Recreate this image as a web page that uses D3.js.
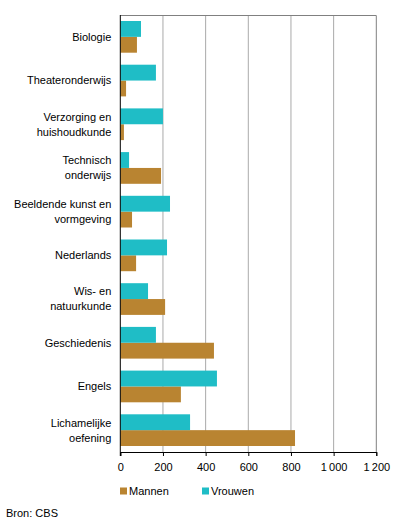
<!DOCTYPE html>
<html lang="nl">
<head>
    <meta charset="UTF-8">
    <script src="https://cdn.jsdelivr.net/npm/d3@7/dist/d3.min.js"></script>
    <title>Leraren</title>
    <style>
        body { margin: 0; background: #fff; }
        svg { display: block; font-family: "Liberation Sans", Arial, sans-serif; font-size: 11px; }
    </style>
</head>
<body>
<svg id="chart"></svg>
<script>
    const categories = [
        ["Biologie"],
        ["Theateronderwijs"],
        ["Verzorging en", "huishoudkunde"],
        ["Technisch", "onderwijs"],
        ["Beeldende kunst en", "vormgeving"],
        ["Nederlands"],
        ["Wis- en", "natuurkunde"],
        ["Geschiedenis"],
        ["Engels"],
        ["Lichamelijke", "oefening"]
    ];
    const vrouwen = [97, 167, 200, 41, 233, 219, 130, 167, 453, 327];
    const mannen = [78, 27, 17, 191, 55, 74, 210, 439, 284, 819];
    const xTicks = [0, 200, 400, 600, 800, 1000, 1200];
    const series = [
        {key: "Mannen", values: mannen, color: "#b98431"},
        {key: "Vrouwen", values: vrouwen, color: "#1fbdc6"}
    ];

    const width = 396, height = 520;
    const margin = {top: 15, right: 19.7, bottom: 68, left: 120.3};

    const svg = d3.select("#chart").attr("width", width).attr("height", height);

    const x = d3.scaleLinear().domain([0, 1200]).range([margin.left, width - margin.right]);
    const y = d3.scaleBand().domain(d3.range(categories.length))
        .range([margin.top, height - margin.bottom])
        .paddingInner(12 / 43.7).paddingOuter(6 / 43.7);
    // order: vrouwen on top, mannen below
    const sub = d3.scaleBand().domain(["Vrouwen", "Mannen"]).range([0, y.bandwidth()]);

    // grid
    svg.append("g").selectAll("line")
        .data(xTicks.slice(1, -1))
        .join("line")
        .attr("x1", d => x(d)).attr("x2", d => x(d))
        .attr("y1", margin.top).attr("y2", height - margin.bottom)
        .attr("stroke", "#aaaaaa");

    // top / right border
    svg.append("path")
        .attr("d", `M${x(0)},${margin.top + 0.5}H${x(1200)}V${height - margin.bottom}`)
        .attr("fill", "none")
        .attr("stroke", "#808080");

    // bars
    series.forEach(s => {
        svg.append("g").selectAll("rect")
            .data(s.values)
            .join("rect")
            .attr("x", x(0))
            .attr("y", (d, i) => y(i) + sub(s.key))
            .attr("width", d => x(d) - x(0))
            .attr("height", sub.bandwidth())
            .attr("fill", s.color);
    });

    // bottom axis
    const xAxis = svg.append("g")
        .attr("transform", `translate(0,${height - margin.bottom})`)
        .call(d3.axisBottom(x).tickValues(xTicks).tickSize(4).tickPadding(7)
            .tickFormat(d => d3.format(",")(d).replace(",", "\u2009")));
    xAxis.select(".domain").attr("stroke", "#000");
    xAxis.selectAll(".tick line").attr("stroke", "#000");
    xAxis.selectAll("text").attr("font-size", 11).attr("font-family", "Liberation Sans, Arial, sans-serif").attr("fill", "#000");

    // left axis line
    svg.append("line")
        .attr("x1", x(0)).attr("x2", x(0))
        .attr("y1", margin.top).attr("y2", height - margin.bottom + 4)
        .attr("stroke", "#000");

    // category labels
    const labels = svg.append("g").attr("text-anchor", "end").attr("fill", "#000");
    categories.forEach((lines, i) => {
        const cy = y(i) + y.bandwidth() / 2;
        const t = labels.append("text").attr("x", x(0) - 9);
        lines.forEach((ln, j) => {
            t.append("tspan")
                .attr("x", x(0) - 9)
                .attr("y", cy + (j - (lines.length - 1) / 2) * 15)
                .attr("dy", "0.35em")
                .text(ln);
        });
    });

    // legend
    const legendX = [120, 202];
    const legend = svg.append("g");
    series.forEach((s, i) => {
        const g = legend.append("g").attr("transform", `translate(${legendX[i]},491)`);
        g.append("rect").attr("x", 0).attr("y", -3.5).attr("width", 7).attr("height", 7).attr("fill", s.color);
        g.append("text").attr("x", 9).attr("y", 0).attr("dy", "0.35em").text(s.key);
    });

    svg.append("text").attr("x", 6).attr("y", 513).attr("dy", "0.35em").text("Bron: CBS");
</script>
</body>
</html>
